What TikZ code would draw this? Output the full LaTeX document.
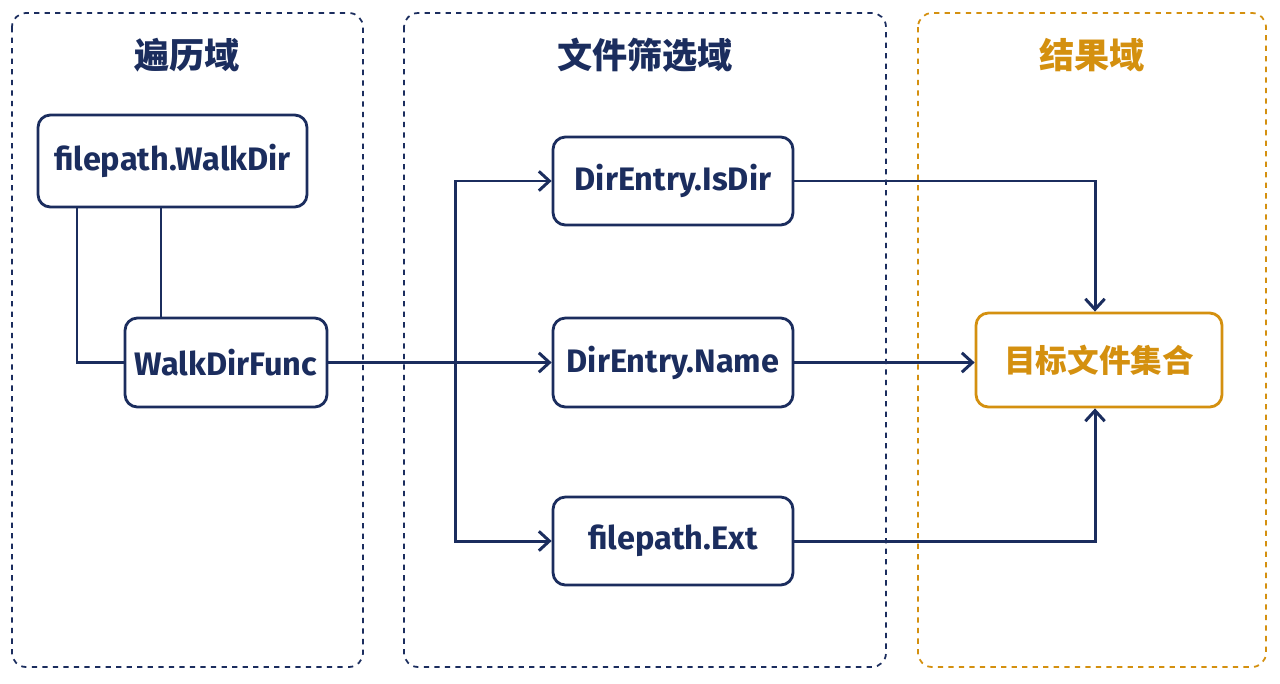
\documentclass[tikz,border=0pt]{standalone}
\usepackage{fontspec}
\setmainfont{Fira Sans}
\newfontfamily\cjk{Noto Sans CJK SC}
\usetikzlibrary{arrows.meta}
\definecolor{navy}{HTML}{1B2D5E}
\definecolor{orng}{HTML}{D4900F}
\begin{document}
\begin{tikzpicture}[x=0.02cm,y=-0.02cm,
 region/.style={draw=navy,dashed,line width=1pt,rounded corners=8pt},
 box/.style={draw=navy,line width=1.6pt,rounded corners=7pt,fill=white,text=navy,font=\bfseries\fontsize{18.5}{22}\selectfont},
 title/.style={text=navy,font=\cjk\bfseries\fontsize{20}{24}\selectfont},
 conn/.style={draw=navy,line width=1.7pt},
 arr/.style={conn,-{Straight Barb[length=6pt,width=11pt,line width=1.7pt]}}]
\useasboundingbox (0,0) rectangle (1280,683);
\draw[region] (12,13) rectangle (363,667);
\draw[region] (404,13) rectangle (886,667);
\draw[region,draw=orng] (918,13) rectangle (1266,667);
\node[title] (t1) at (187,55) {遍历域};
\node[title] (t2) at (645,55) {文件筛选域};
\node[title,text=orng] (t3) at (1092,55) {结果域};
\node[box,minimum width=5.38cm,minimum height=1.84cm] (wd) at (172.5,161) {filepath.WalkDir};
\node[box,minimum width=4.04cm,minimum height=1.78cm] (wf) at (226,362.5) {WalkDirFunc};
\node[box,minimum width=4.8cm,minimum height=1.76cm] (isd) at (673,181) {DirEntry.IsDir};
\node[box,minimum width=4.8cm,minimum height=1.78cm] (nm) at (673,362.5) {DirEntry.Name};
\node[box,minimum width=4.8cm,minimum height=1.76cm] (ext) at (673,541) {filepath.Ext};
\node[box,draw=orng,text=orng,font=\cjk\bfseries\fontsize{18}{22}\selectfont,minimum width=4.92cm,minimum height=1.88cm] (tg) at (1099,360) {目标文件集合};
\coordinate (br) at (455,362.5);
\draw[conn] (wd.south -| 77,0) |- (wf.west);
\draw[conn] (wd.south -| 161,0) -- (wf.north -| 161,0);
\draw[arr] (wf.east) -- (nm.west);
\draw[arr] (br) |- (isd.west);
\draw[arr] (br) |- (ext.west);
\draw[arr] (isd.east) -| (tg.north -| 1095,0);
\draw[arr] (nm.east) -- (tg.west |- nm.east);
\draw[arr] (ext.east) -| (tg.south -| 1095,0);
\end{tikzpicture}
\end{document}
